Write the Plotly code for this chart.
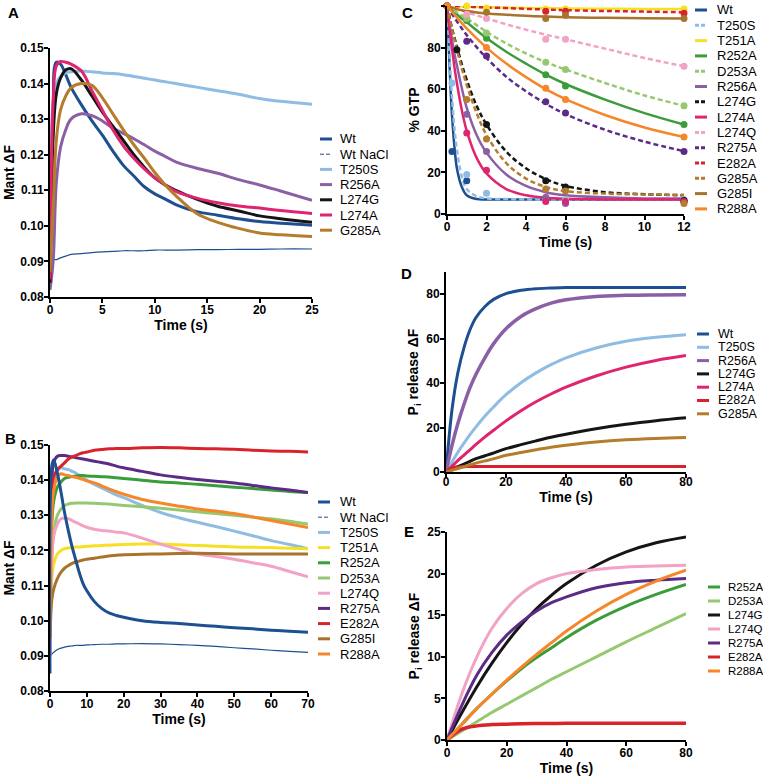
import plotly.graph_objects as go

W, H = 763, 779

# ---------------- Panel A: Mant dF, 0-25 s ----------------
A_TIME = [0, 0.3, 0.6, 1, 1.5, 2, 3, 4, 5, 6, 7, 8, 9, 10, 11, 12, 14, 16, 18, 20, 22, 25]
A_WT = [0.085, 0.13, 0.146, 0.1455, 0.1425, 0.139, 0.134, 0.1295, 0.1255, 0.121, 0.117, 0.114,
        0.111, 0.109, 0.1075, 0.106, 0.104, 0.103, 0.102, 0.1012, 0.1007, 0.1002]
A_WT_NACL = [0.089, 0.0905, 0.0905, 0.091, 0.0915, 0.092, 0.0922, 0.0925, 0.0927, 0.0928, 0.093,
             0.093, 0.093, 0.0932, 0.0932, 0.0932, 0.0933, 0.0933, 0.0934, 0.0934, 0.0935, 0.0935]
A_T250S = [0.09, 0.135, 0.14, 0.142, 0.143, 0.1433, 0.1435, 0.1433, 0.143, 0.1428, 0.1425, 0.142,
           0.1415, 0.141, 0.1405, 0.14, 0.139, 0.138, 0.137, 0.1358, 0.135, 0.1342]
A_R256A = [0.082, 0.09, 0.112, 0.122, 0.127, 0.13, 0.1315, 0.131, 0.1295, 0.1275, 0.126, 0.1245,
           0.1228, 0.121, 0.1195, 0.118, 0.1162, 0.1148, 0.113, 0.1115, 0.1098, 0.1072]
A_L274G = [0.084, 0.125, 0.137, 0.1415, 0.1438, 0.1442, 0.141, 0.1365, 0.132, 0.128, 0.124, 0.12,
           0.1165, 0.1135, 0.1115, 0.11, 0.1075, 0.1055, 0.1042, 0.1028, 0.102, 0.101]
A_L274A = [0.085, 0.135, 0.145, 0.1462, 0.146, 0.1455, 0.1435, 0.138, 0.1325, 0.127, 0.1225, 0.119,
           0.116, 0.1135, 0.1115, 0.1097, 0.1078, 0.1065, 0.1056, 0.105, 0.1043, 0.1035]
A_G285A = [0.087, 0.105, 0.124, 0.1325, 0.1365, 0.1388, 0.14, 0.1395, 0.136, 0.1315, 0.127, 0.1228,
           0.119, 0.115, 0.1115, 0.1085, 0.1035, 0.101, 0.0993, 0.098, 0.0975, 0.097]

# ---------------- Panel B: Mant dF, 0-70 s ----------------
B_TIME = [0, 0.5, 1, 2, 3, 4, 5, 6, 7, 8, 9, 10, 12, 14, 16, 18, 20, 25, 30, 35, 40, 45, 50, 55, 60, 65, 70]
B_WT = [0.085, 0.144, 0.1458, 0.142, 0.1365, 0.1305, 0.1255, 0.121, 0.1172, 0.1135, 0.1105, 0.1085,
        0.1055, 0.1035, 0.1022, 0.1015, 0.101, 0.1, 0.0995, 0.0992, 0.0988, 0.0984, 0.098, 0.0977,
        0.0973, 0.097, 0.0967]
B_WT_NACL = [0.09, 0.0905, 0.091, 0.0918, 0.0922, 0.0925, 0.0927, 0.0928, 0.093, 0.093, 0.093, 0.0931,
             0.0932, 0.0933, 0.0933, 0.0934, 0.0934, 0.0935, 0.0934, 0.0932, 0.093, 0.0927, 0.0923,
             0.092, 0.0916, 0.0913, 0.091]
B_T250S = [0.09, 0.13, 0.1375, 0.1425, 0.1435, 0.1432, 0.143, 0.1425, 0.142, 0.1413, 0.1406, 0.14,
           0.1388, 0.1378, 0.1368, 0.1358, 0.135, 0.1328, 0.1308, 0.1293, 0.128, 0.1268, 0.1255,
           0.1242, 0.1228, 0.1217, 0.1205]
B_T251A = [0.1, 0.112, 0.116, 0.119, 0.12, 0.1205, 0.1207, 0.1208, 0.121, 0.121, 0.1211, 0.1212,
           0.1213, 0.1214, 0.1215, 0.1216, 0.1217, 0.1218, 0.1218, 0.1216, 0.1214, 0.1212, 0.121,
           0.1209, 0.1208, 0.1206, 0.1205]
B_R252A = [0.1, 0.128, 0.134, 0.138, 0.1395, 0.1405, 0.1408, 0.141, 0.1412, 0.1413, 0.1413, 0.1412,
           0.1411, 0.141, 0.1409, 0.1407, 0.1405, 0.14, 0.1395, 0.1392, 0.1388, 0.1384, 0.138,
           0.1376, 0.1372, 0.1368, 0.1365]
B_D253A = [0.095, 0.118, 0.125, 0.13, 0.1318, 0.1328, 0.1332, 0.1334, 0.1335, 0.1335, 0.1335, 0.1335,
           0.1334, 0.1333, 0.1332, 0.133, 0.1328, 0.1324, 0.132, 0.1315, 0.131, 0.1305, 0.13,
           0.1295, 0.129, 0.1283, 0.1275]
B_L274Q = [0.09, 0.118, 0.124, 0.1275, 0.129, 0.1292, 0.129, 0.1285, 0.128, 0.1275, 0.127, 0.1266,
           0.126, 0.1257, 0.1255, 0.1252, 0.125, 0.1235, 0.1218, 0.1203, 0.119, 0.1183, 0.1175,
           0.1165, 0.1155, 0.114, 0.1125]
B_R275A = [0.11, 0.14, 0.145, 0.1468, 0.147, 0.147, 0.1468, 0.1466, 0.1464, 0.1462, 0.146, 0.1458,
           0.1454, 0.145, 0.1446, 0.144, 0.1435, 0.1425, 0.1415, 0.1408, 0.1402, 0.1397, 0.1392,
           0.1385, 0.1378, 0.1372, 0.1365]
B_E282A = [0.12, 0.138, 0.141, 0.143, 0.144, 0.145, 0.146, 0.1466, 0.147, 0.1475, 0.1478, 0.148,
           0.1485, 0.1487, 0.1489, 0.149, 0.149, 0.1492, 0.1493, 0.1492, 0.149, 0.1489, 0.1488,
           0.1485, 0.1483, 0.1482, 0.148]
B_G285I = [0.095, 0.106, 0.109, 0.112, 0.1138, 0.115, 0.1157, 0.1163, 0.1167, 0.117, 0.1173, 0.1175,
           0.1178, 0.1181, 0.1184, 0.1186, 0.1188, 0.1189, 0.119, 0.1191, 0.1192, 0.1191, 0.119,
           0.119, 0.119, 0.119, 0.119]
B_R288A = [0.095, 0.13, 0.137, 0.141, 0.1418, 0.1415, 0.1413, 0.141, 0.1408, 0.1405, 0.1402, 0.1398,
           0.1392, 0.1384, 0.1375, 0.1367, 0.136, 0.1345, 0.1335, 0.1326, 0.1318, 0.1312, 0.1305,
           0.1295, 0.1285, 0.1275, 0.1265]

# ---------------- Panel C: % GTP, fitted curves + measured points ----------------
C_TIME = [0, 0.1, 0.2, 0.3, 0.4, 0.5, 0.75, 1, 1.5, 2, 3, 4, 5, 6, 8, 10, 12]
C_WT = [100, 78, 56, 41, 30, 22, 13, 9, 7.2, 7, 7, 7, 7, 7, 7, 7, 7]
C_T250S = [100, 82, 64, 50, 39, 31, 18, 12, 8.5, 7.5, 7.2, 7, 7, 7, 7, 7, 7]
C_T251A = [100, 100, 100, 100, 100, 99.9, 99.8, 99.7, 99.5, 99.4, 99.2, 99, 98.9, 98.8, 98.7, 98.6, 98.5]
C_R252A = [100, 99.2, 98.4, 97.6, 96.8, 96, 94, 92.2, 88.3, 84.6, 78, 72.3, 67, 62.5, 55, 48.5, 43]
C_D253A = [100, 99.4, 98.8, 98.2, 97.6, 97, 95.5, 94, 90.8, 87.6, 82, 77.2, 73, 69.5, 63, 57, 52]
C_R256A = [100, 93, 87, 81, 76, 71.5, 60.5, 51, 38, 29.5, 19, 13.5, 10.5, 9, 8, 7.5, 7.5]
C_L274G = [100, 96, 91.5, 87.5, 84, 80.5, 72, 64.5, 52, 43, 30, 22, 16.8, 13.5, 10.5, 9.5, 9]
C_L274A = [100, 91, 83, 76, 69, 63, 50, 40, 27, 19.5, 12, 9, 7.8, 7.3, 7, 7, 7]
C_L274Q = [100, 99.7, 99.4, 99.1, 98.8, 98.5, 97.8, 97, 95.5, 94, 91.2, 88.6, 86.2, 84, 79.5, 75, 71]
C_R275A = [100, 98.5, 97, 95.5, 94, 92.6, 89.2, 86, 80.2, 75, 66, 59, 53, 48, 40.5, 34.8, 30.2]
C_E282A = [100, 100, 100, 100, 99.9, 99.9, 99.8, 99.7, 99.5, 99.3, 99, 98.6, 98.3, 98, 97.6, 97.3, 97]
C_G285A = [100, 95.5, 91, 87, 83, 79, 70, 62, 48.5, 38, 24.5, 17, 13, 11, 9.8, 9.4, 9.2]
C_G285I = [100, 99.7, 99.4, 99.1, 98.8, 98.5, 98, 97.6, 96.9, 96.4, 95.8, 95.3, 94.9, 94.6, 94.3, 94.1, 94]
C_R288A = [100, 98.9, 97.8, 96.7, 95.6, 94.5, 91.8, 89.2, 84.4, 80, 72.3, 65.8, 60, 55.2, 47.6, 41.6, 37]

C_PT_TIME = [0, 0.25, 0.5, 1, 2, 5, 6, 12]
C_PT_WT = [100, 30, None, 16, None, 7, 6, 6]
C_PT_T250S = [100, 63, None, 19, 10, 7, 7, 7]
C_PT_T251A = [100, None, None, 100, 99, 98.5, 98.5, 98.5]
C_PT_R252A = [100, None, None, 93, 84.5, 67, 61.5, 43]
C_PT_D253A = [100, None, None, 94, 87, 73, 69.5, 52]
C_PT_R256A = [100, None, None, 48, 30, 8, 5, 6]
C_PT_L274G = [100, None, 79, None, 43, 16, 13, 6.5]
C_PT_L274A = [100, None, None, 39, 21, 6, 6, 6]
C_PT_L274Q = [100, None, None, 96, 94, 84, 84, 71]
C_PT_R275A = [100, None, None, 83, 76, 54, 48.5, 30]
C_PT_E282A = [100, None, None, None, None, 97.5, 97.5, 96.5]
C_PT_G285A = [100, None, None, 55, 36, 12, 11, 5]
C_PT_G285I = [100, None, None, None, 97, 94, 95.5, 94]
C_PT_R288A = [100, None, None, None, 80, 60.5, 55, 37]

# ---------------- Panel D: Pi release ----------------
D_TIME = [0, 2, 4, 6, 8, 10, 13, 16, 20, 25, 30, 35, 40, 50, 60, 70, 80]
D_WT = [0, 28, 45, 56, 64, 69.5, 74.5, 77.8, 80.3, 81.8, 82.5, 82.8, 83, 83, 83, 83, 83]
D_T250S = [0, 4.5, 9, 13, 16.8, 20.3, 25.2, 29.5, 34.8, 40.2, 44.6, 48.3, 51.4, 55.8, 58.8, 60.6, 61.8]
D_R256A = [0, 12, 22, 30.5, 38, 44, 51.5, 58, 64.5, 70, 73.5, 76, 77.5, 79, 79.5, 79.7, 79.8]
D_L274G = [0, 1.2, 2.4, 3.6, 4.8, 6, 7.3, 8.6, 10.5, 12.3, 14, 15.6, 17, 19.5, 21.5, 23.1, 24.4]
D_L274A = [0, 2.6, 5.2, 7.6, 10, 12.4, 15.8, 18.9, 23, 27.6, 31.6, 35.1, 38.2, 43.2, 47.2, 50.2, 52.4]
D_E282A = [0, 1.9, 2.3, 2.4, 2.45, 2.5, 2.5, 2.5, 2.5, 2.5, 2.5, 2.5, 2.5, 2.5, 2.5, 2.5, 2.5]
D_G285A = [0, 0.8, 1.6, 2.4, 3.2, 4, 5, 6, 7.5, 8.8, 10, 11.1, 12, 13.5, 14.5, 15.1, 15.5]

# ---------------- Panel E: Pi release ----------------
E_TIME = [0, 5, 10, 15, 20, 25, 30, 35, 40, 50, 60, 70, 80]
E_R252A = [0, 1.9, 3.8, 5.5, 7.1, 8.6, 9.9, 11.1, 12.3, 14.4, 16.1, 17.5, 18.7]
E_D253A = [0, 1.1, 2.2, 3.3, 4.3, 5.3, 6.3, 7.3, 8.2, 10, 11.8, 13.5, 15.2]
E_L274G = [0, 3.3, 6.4, 9.2, 11.7, 13.9, 15.8, 17.4, 18.8, 21, 22.6, 23.7, 24.4]
E_L274Q = [0, 5.6, 10, 13.4, 15.8, 17.6, 18.8, 19.5, 20, 20.5, 20.8, 20.9, 21]
E_R275A = [0, 4.2, 7.8, 10.5, 12.6, 14.2, 15.5, 16.5, 17.2, 18.3, 18.9, 19.2, 19.4]
E_E282A = [0, 1.3, 1.7, 1.85, 1.9, 1.95, 1.97, 1.98, 2, 2, 2, 2, 2]
E_R288A = [0, 1.9, 3.8, 5.5, 7.2, 8.8, 10.3, 11.7, 13.1, 15.5, 17.5, 19.1, 20.4]

# colours
COL = {
    "Wt": "#1d4f91", "Wt NaCl": "#1d4f91", "T250S": "#8fbce3", "T251A": "#f6e024",
    "R252A": "#3b9c3a", "D253A": "#96c96f", "R256A": "#8b5fa5", "L274G": "#151515",
    "L274A": "#e0246f", "L274Q": "#f2a2c5", "R275A": "#5b2b86", "E282A": "#d9232c",
    "G285A": "#b57c2c", "G285I": "#a8732c", "R288A": "#f6862a",
}
C_DASHED = {"T250S", "D253A", "L274G", "L274Q", "R275A", "E282A", "G285A"}

FAM = "Liberation Sans, Arial, sans-serif"
BOLD = dict(family=FAM, size=12, color="black", weight="bold")
TITLE = dict(family=FAM, size=14, color="black", weight="bold")


def px(x):
    return x / W


def py(y):
    return 1 - y / H


def axis(dom, rng, title, standoff, lab_off=0, **kw):
    d = dict(domain=dom, range=rng, showline=True, linecolor="black", linewidth=2,
             ticks="outside", ticklen=4, tickwidth=2, tickcolor="black",
             showgrid=False, zeroline=False, tickfont=BOLD, automargin=False,
             ticklabelstandoff=lab_off,
             title=dict(text=title, font=TITLE, standoff=standoff))
    d.update(kw)
    return d


fig = go.Figure()


def add_lines(xa, ya, t, series, widths=None, shape="linear", dashes=None):
    for name, vals in series:
        w = (widths or {}).get(name, 3)
        dash = "5px,3px" if dashes and name in dashes else "solid"
        fig.add_trace(go.Scatter(x=t, y=vals, mode="lines", name=name, xaxis=xa, yaxis=ya,
                                 line=dict(color=COL[name], width=w, dash=dash, shape=shape),
                                 showlegend=False))


# Panel A
add_lines("x", "y", A_TIME, [("Wt", A_WT), ("Wt NaCl", A_WT_NACL), ("T250S", A_T250S),
                             ("R256A", A_R256A), ("L274G", A_L274G), ("L274A", A_L274A),
                             ("G285A", A_G285A)], widths={"Wt NaCl": 1.2}, shape="spline")
# Panel B
add_lines("x2", "y2", B_TIME, [("Wt NaCl", B_WT_NACL), ("T250S", B_T250S), ("T251A", B_T251A),
                               ("R252A", B_R252A), ("D253A", B_D253A), ("L274Q", B_L274Q),
                               ("R275A", B_R275A), ("E282A", B_E282A), ("G285I", B_G285I),
                               ("R288A", B_R288A), ("Wt", B_WT)], widths={"Wt NaCl": 1.2}, shape="spline")
# Panel C
c_series = [("Wt", C_WT, C_PT_WT), ("T250S", C_T250S, C_PT_T250S), ("T251A", C_T251A, C_PT_T251A),
            ("R252A", C_R252A, C_PT_R252A), ("D253A", C_D253A, C_PT_D253A),
            ("R256A", C_R256A, C_PT_R256A), ("L274G", C_L274G, C_PT_L274G),
            ("L274A", C_L274A, C_PT_L274A), ("L274Q", C_L274Q, C_PT_L274Q),
            ("R275A", C_R275A, C_PT_R275A), ("E282A", C_E282A, C_PT_E282A),
            ("G285A", C_G285A, C_PT_G285A), ("G285I", C_G285I, C_PT_G285I),
            ("R288A", C_R288A, C_PT_R288A)]
add_lines("x3", "y3", C_TIME, [(n, v) for n, v, _ in c_series], widths={n: 2.5 for n in COL},
          shape="spline", dashes=C_DASHED)
for name, _, pts in c_series:
    fig.add_trace(go.Scatter(x=C_PT_TIME, y=pts, mode="markers", xaxis="x3", yaxis="y3",
                             marker=dict(color=COL[name], size=7), cliponaxis=False,
                             showlegend=False))
# Panel D
add_lines("x4", "y4", D_TIME, [("Wt", D_WT), ("T250S", D_T250S), ("R256A", D_R256A),
                               ("L274G", D_L274G), ("L274A", D_L274A), ("E282A", D_E282A),
                               ("G285A", D_G285A)], widths={"R256A": 3.5}, shape="spline")
# Panel E
add_lines("x5", "y5", E_TIME, [("R252A", E_R252A), ("D253A", E_D253A), ("L274G", E_L274G),
                               ("L274Q", E_L274Q), ("R275A", E_R275A), ("E282A", E_E282A),
                               ("R288A", E_R288A)], widths={"E282A": 3.5}, shape="spline")

TIME = "Time (s)"
MANT = "Mant ΔF"
PI = "P<sub>i</sub> release ΔF"
MANT_TICKS = [0.08, 0.09, 0.10, 0.11, 0.12, 0.13, 0.14, 0.15]

fig.update_layout(
    width=W, height=H, margin=dict(l=0, r=0, t=0, b=0),
    paper_bgcolor="white", plot_bgcolor="white", template="none", showlegend=False,
    font=dict(family=FAM),
    xaxis=axis([px(50), px(312)], [0, 25], TIME, 4, -3, anchor="y", tickvals=[0, 5, 10, 15, 20, 25]),
    yaxis=axis([py(297), py(48)], [0.08, 0.15], MANT, 2, -2, anchor="x",
               tickvals=MANT_TICKS, tickformat=".2f"),
    xaxis2=axis([px(50), px(308)], [0, 70], TIME, 4, -3, anchor="y2", tickvals=list(range(0, 71, 10))),
    yaxis2=axis([py(691), py(445)], [0.08, 0.15], MANT, 2, -2, anchor="x2",
                tickvals=MANT_TICKS, tickformat=".2f"),
    xaxis3=axis([px(447), px(684)], [0, 12], TIME, 3, -3, anchor="y3", tickvals=[0, 2, 4, 6, 8, 10, 12]),
    yaxis3=axis([py(214), py(6)], [0, 100], "% GTP", 4, -2, anchor="x3",
                tickvals=[0, 20, 40, 60, 80, 100]),
    xaxis4=axis([px(446), px(686)], [0, 80], TIME, 4, -6, anchor="y4", tickvals=[0, 20, 40, 60, 80]),
    yaxis4=axis([py(472), py(272)], [0, 90], PI, 4, -2, anchor="x4", tickvals=[0, 20, 40, 60, 80]),
    xaxis5=axis([px(447), px(686)], [0, 80], TIME, 2, -3, anchor="y5", tickvals=[0, 20, 40, 60, 80]),
    yaxis5=axis([py(740), py(532)], [0, 25], PI, 4, -2, anchor="x5", tickvals=[0, 5, 10, 15, 20, 25]),
)

# panel letters
for letter, x, y in [("A", 13, 12), ("B", 10, 438), ("C", 407, 12), ("D", 406, 273), ("E", 409, 531)]:
    fig.add_annotation(xref="paper", yref="paper", x=px(x), y=py(y), text=letter, showarrow=False,
                       xanchor="center", yanchor="middle", font=dict(TITLE, size=15))


def add_legend(x_line, x_text, y0, dy, names, size=13, dashed=(), thin=()):
    for i, name in enumerate(names):
        y = y0 + i * dy
        fig.add_shape(type="line", xref="paper", yref="paper", x0=px(x_line), x1=px(x_line + 12),
                      y0=py(y), y1=py(y),
                      line=dict(color=COL[name], width=1 if name in thin else 3,
                                dash="4px,2px" if name in dashed or name in thin else "solid"))
        fig.add_annotation(xref="paper", yref="paper", x=px(x_text), y=py(y), text=name,
                           showarrow=False, xanchor="left", yanchor="middle",
                           font=dict(family=FAM, size=size, color="black"))


add_legend(320, 338, 139, 15.2, ["Wt", "Wt NaCl", "T250S", "R256A", "L274G", "L274A", "G285A"],
           thin=["Wt NaCl"])
add_legend(318, 338, 502, 15.2, ["Wt", "Wt NaCl", "T250S", "T251A", "R252A", "D253A", "L274Q",
                                 "R275A", "E282A", "G285I", "R288A"], thin=["Wt NaCl"])
add_legend(695, 715, 10, 15.3, ["Wt", "T250S", "T251A", "R252A", "D253A", "R256A", "L274G",
                                "L274A", "L274Q", "R275A", "E282A", "G285A", "G285I", "R288A"],
           dashed=C_DASHED)
add_legend(697, 716, 334, 13.3, ["Wt", "T250S", "R256A", "L274G", "L274A", "E282A", "G285A"],
           size=12.5)
add_legend(708, 726, 587, 14, ["R252A", "D253A", "L274G", "L274Q", "R275A", "E282A", "R288A"],
           size=11.5)

# page without body margin so the 763x779 figure fills the window exactly
fig.write_html("out.html", config={"displayModeBar": False},
               post_script="document.body.style.margin='0';document.body.style.overflow='hidden';")
